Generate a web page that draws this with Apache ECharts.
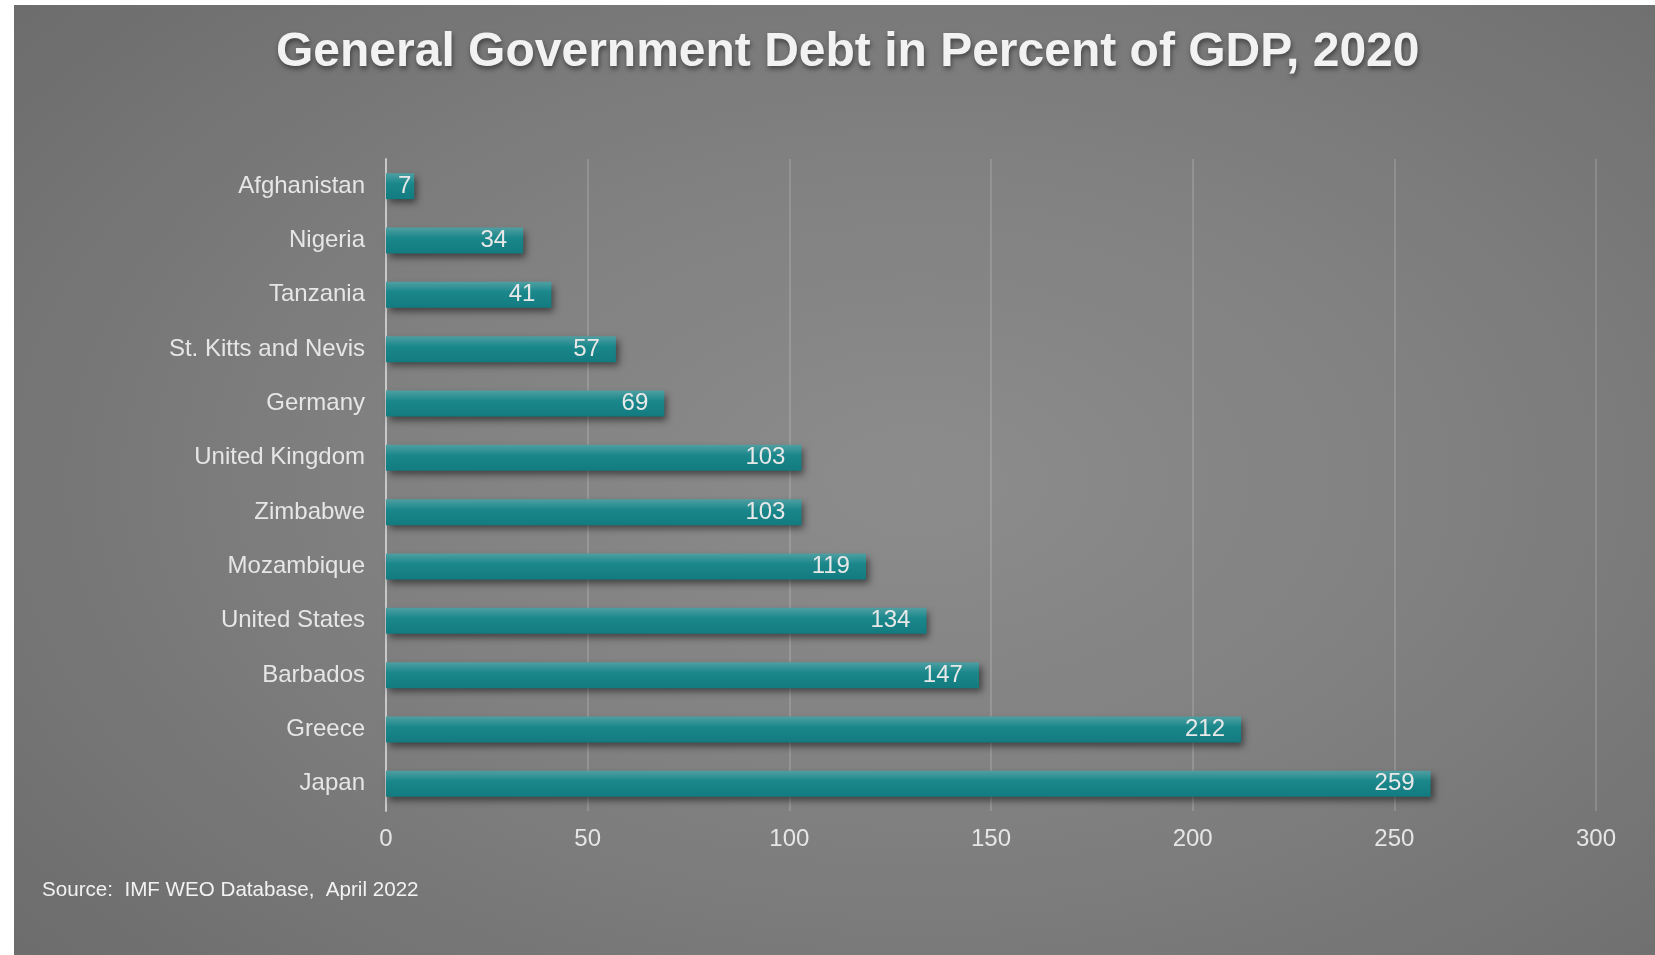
<!DOCTYPE html>
<html>
<head>
<meta charset="utf-8">
<script src="https://cdn.jsdelivr.net/npm/echarts@6/dist/echarts.min.js"></script>
<style>
  html, body { margin: 0; padding: 0; background: #ffffff; }
  #chart {
    position: absolute; left: 14px; top: 5px; width: 1641px; height: 950px;
    background: radial-gradient(ellipse 75% 80% at 55% 50%, #8c8c8c 0%, #808080 45%, #6b6b6b 100%);
  }
</style>
</head>
<body>
<div id="chart"></div>
<script>
// Debt-to-GDP ratios, 2020
const countries = ['Afghanistan', 'Nigeria', 'Tanzania', 'St. Kitts and Nevis', 'Germany',
  'United Kingdom', 'Zimbabwe', 'Mozambique', 'United States', 'Barbados', 'Greece', 'Japan'];
const debtPct = [7, 34, 41, 57, 69, 103, 103, 119, 134, 147, 212, 259];
const xTicks = [0, 50, 100, 150, 200, 250, 300];

const chart = echarts.init(document.getElementById('chart'), null, { renderer: 'canvas' });
const labelColor = '#e6e6e6';

// short bars keep their value tucked close to the bar end
const barData = debtPct.map(v => v < 20
  ? { value: v, label: { distance: 3 } }
  : v);

chart.setOption({
  backgroundColor: 'transparent',
  animation: false,
  title: {
    text: 'General Government Debt in Percent of GDP, 2020',
    left: 257,
    top: 19,
    textStyle: {
      color: '#f2f2f2',
      fontFamily: 'Liberation Sans',
      fontWeight: 'bold',
      fontSize: 48,
      textShadowColor: 'rgba(0,0,0,0.45)',
      textShadowBlur: 5,
      textShadowOffsetX: 1,
      textShadowOffsetY: 3
    }
  },
  grid: { left: 372, top: 154, right: 59, bottom: 144, containLabel: false },
  xAxis: {
    type: 'value',
    min: xTicks[0],
    max: xTicks[xTicks.length - 1],
    interval: 50,
    axisLine: { show: false },
    axisTick: { show: false },
    splitLine: { show: true, lineStyle: { color: 'rgba(255,255,255,0.2)', width: 1.5 } },
    axisLabel: { color: labelColor, fontSize: 24, fontFamily: 'Liberation Sans', margin: 16 }
  },
  yAxis: {
    type: 'category',
    data: countries,
    inverse: true,
    axisLine: { show: true, lineStyle: { color: '#c8c8c8', width: 2 } },
    axisTick: { show: false },
    axisLabel: { color: labelColor, fontSize: 24, fontFamily: 'Liberation Sans', margin: 21 }
  },
  series: [{
    type: 'bar',
    data: barData,
    barWidth: 26,
    itemStyle: {
      color: new echarts.graphic.LinearGradient(0, 0, 0, 1, [
        { offset: 0, color: '#4f9fa2' },
        { offset: 0.4, color: '#1a878b' },
        { offset: 1, color: '#127b80' }
      ]),
      shadowColor: 'rgba(0,0,0,0.5)',
      shadowBlur: 7,
      shadowOffsetX: 3,
      shadowOffsetY: 4
    },
    label: {
      show: true,
      position: 'insideRight',
      distance: 16,
      color: '#e8e8e8',
      fontSize: 24,
      fontFamily: 'Liberation Sans'
    }
  }],
  graphic: [{
    type: 'text',
    left: 28,
    top: 875,
    style: {
      text: 'Source:  IMF WEO Database,  April 2022',
      fill: '#f2f2f2',
      fontSize: 20.6,
      fontFamily: 'Liberation Sans'
    }
  }]
});
</script>
</body>
</html>
